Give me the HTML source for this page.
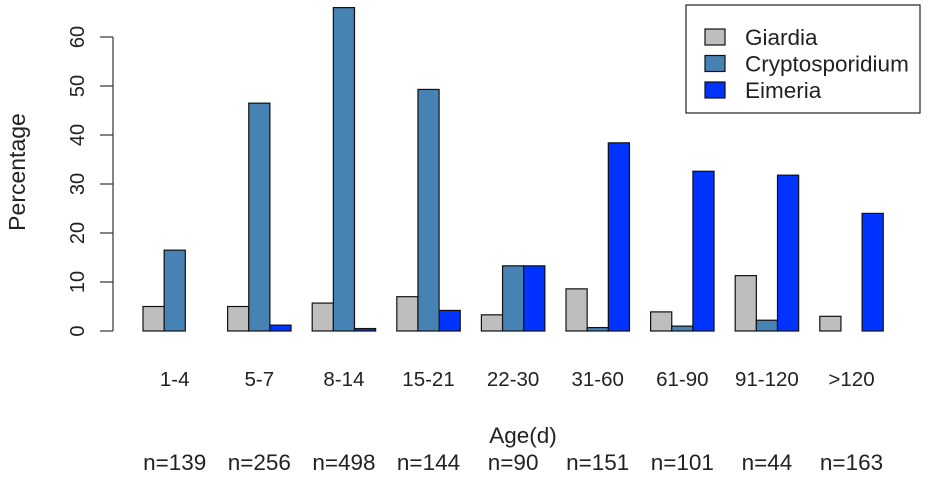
<!DOCTYPE html>
<html><head><meta charset="utf-8"><style>
body{margin:0;background:#fff;}
svg{display:block;font-family:"Liberation Sans",Arial,sans-serif;}
</style></head><body>
<svg id="c" width="935" height="479"></svg>
<script>
const categories=["1-4","5-7","8-14","15-21","22-30","31-60","61-90","91-120",">120"];
const counts=["n=139","n=256","n=498","n=144","n=90","n=151","n=101","n=44","n=163"];
const giardia=[5,5,5.7,7,3.3,8.6,3.9,11.3,3];
const crypto=[16.5,46.5,66,49.3,13.3,0.7,1,2.2,0];
const eimeria=[0,1.2,0.5,4.2,13.3,38.4,32.6,31.8,24];
const yTicks=[0,10,20,30,40,50,60];
const seriesNames=["Giardia","Cryptosporidium","Eimeria"];
const colors=["#bebebe","#4682b4","#0033ff"];
const NS="http://www.w3.org/2000/svg";
const svg=document.getElementById('c');
function y(v){return 331-v*4.9;}
const bw=21.15,gp=84.6,x0=143;
function xb(g,s){return x0+g*gp+s*bw;}
function mk(t,a,p){const e=document.createElementNS(NS,t);for(const k in a)e.setAttribute(k,a[k]);(p||svg).appendChild(e);return e;}
const ax=mk('g',{});


mk('line',{x1:113,x2:113,y1:y(0),y2:y(60),stroke:'#333','stroke-width':1.2},ax);
yTicks.forEach(t=>{
  mk('line',{x1:100,x2:113,y1:y(t),y2:y(t),stroke:'#333','stroke-width':1.2},ax);
  const tx=mk('text',{x:0,y:0,transform:`translate(84,${y(t)}) rotate(-90)`,'text-anchor':'middle','font-size':20,fill:'#222'},ax);
  tx.textContent=t;
  
  
});
const yt=mk('text',{transform:'translate(25,172) rotate(-90)','text-anchor':'middle','font-size':23,fill:'#222'});
yt.textContent='Percentage';


const series=[giardia,crypto,eimeria];
categories.forEach((c,g)=>{
  series.forEach((arr,s)=>{
    const v=arr[g];
    const r=mk('rect',{x:xb(g,s),y:y(v),width:bw,height:Math.max(0,y(0)-y(v)),fill:colors[s],stroke:'#111','stroke-width':1.2});
    
    
  });
  const cx=xb(g,1.5);
  const t=mk('text',{x:cx,y:386,'text-anchor':'middle','font-size':20.5,fill:'#222'});
  t.textContent=c;
  
  
  const n=mk('text',{x:cx,y:470,'text-anchor':'middle','font-size':22.5,fill:'#222'});
  n.textContent=counts[g];
  
  
});
const xt=mk('text',{x:523,y:443,'text-anchor':'middle','font-size':22.5,fill:'#222'});
xt.textContent='Age(d)';


const lg=mk('g',{});


mk('rect',{x:686,y:5,width:234,height:108,fill:'#fff',stroke:'#222','stroke-width':1.2},lg);
seriesNames.forEach((nm,i)=>{
  const yy=37+i*26.5;
  const r=mk('rect',{x:705,y:yy-8,width:20,height:16,fill:colors[i],stroke:'#111','stroke-width':1.2},lg);
  
  
  const t=mk('text',{x:745,y:yy+8,'font-size':22.5,fill:'#222'},lg);
  t.textContent=nm;
  
  
});
</script>
</body></html>
